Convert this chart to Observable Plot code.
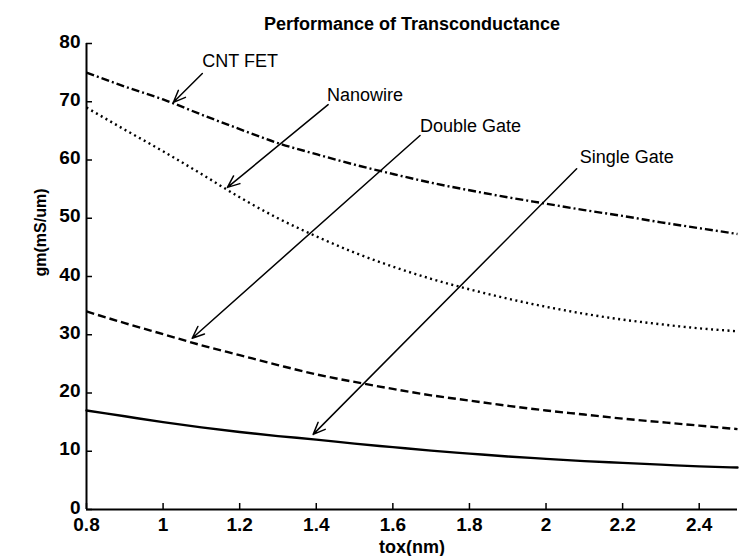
<!DOCTYPE html>
<html>
<head>
<meta charset="utf-8">
<script src="https://cdn.jsdelivr.net/npm/d3@7"></script>
<script src="https://cdn.jsdelivr.net/npm/@observablehq/plot@0.6"></script>
<style>
  html, body { margin: 0; padding: 0; background: #fff; }
  #chart svg { display: block; }
</style>
</head>
<body>
<div id="chart"></div>
<script>
// Oxide thickness (nm)
const tox = [0.8, 0.9, 1.0, 1.1, 1.2, 1.3, 1.4, 1.5, 1.6, 1.7, 1.8, 1.9, 2.0, 2.1, 2.2, 2.3, 2.4, 2.5];

// Transconductance gm (mS/um) for each device
const cntFet     = [75.0, 72.6, 70.4, 67.8, 65.3, 62.9, 61.0, 59.2, 57.6, 56.1, 54.8, 53.6, 52.5, 51.4, 50.4, 49.3, 48.3, 47.3];
const nanowire   = [69.0, 65.2, 61.5, 57.6, 53.6, 50.0, 46.9, 44.1, 41.7, 39.6, 37.8, 36.2, 34.8, 33.6, 32.6, 31.8, 31.1, 30.6];
const doubleGate = [34.0, 32.0, 30.1, 28.2, 26.5, 24.8, 23.2, 21.9, 20.7, 19.6, 18.7, 17.8, 17.0, 16.3, 15.6, 15.0, 14.4, 13.8];
const singleGate = [17.0, 16.0, 15.0, 14.1, 13.3, 12.6, 12.0, 11.3, 10.7, 10.1, 9.6, 9.1, 8.7, 8.3, 8.0, 7.7, 7.4, 7.2];

// Axis ticks
const xTicks = [0.8, 1.0, 1.2, 1.4, 1.6, 1.8, 2.0, 2.2, 2.4];
const xTickLabels = ["0.8", "1", "1.2", "1.4", "1.6", "1.8", "2", "2.2", "2.4"];
const yTicks = [0, 10, 20, 30, 40, 50, 60, 70, 80];
const yTickLabels = ["0", "10", "20", "30", "40", "50", "60", "70", "80"];

// Callout labels: text, label position, arrow start and arrow tip (data units)
const calloutText = ["CNT FET", "Nanowire", "Double Gate", "Single Gate"];
const calloutLabelX = [1.1025, 1.428, 1.671, 2.088];
const calloutLabelY = [76.9, 71.2, 65.75, 60.4];
const calloutFromX = [1.1025, 1.431, 1.671, 2.080];
const calloutFromY = [74.85, 69.5, 64.2, 58.5];
const calloutToX = [1.027, 1.168, 1.076, 1.392];
const calloutToY = [69.9, 55.3, 29.4, 12.9];

const series = [
  {name: "CNT FET", values: cntFet, dash: "8,3,2,3", cap: "butt"},
  {name: "Nanowire", values: nanowire, dash: "2,3.5", cap: "butt"},
  {name: "Double Gate", values: doubleGate, dash: "8,4", cap: "butt"},
  {name: "Single Gate", values: singleGate, dash: null, cap: "round"}
];

const W = 739, H = 556;
const mL = 86, mR = 2, mT = 43, mB = 47;
const frameW = W - mL - mR, frameH = H - mT - mB;

const callouts = calloutText.map((t, i) => ({
  text: t,
  lx: calloutLabelX[i], ly: calloutLabelY[i],
  x1: calloutFromX[i], y1: calloutFromY[i],
  x2: calloutToX[i], y2: calloutToY[i]
}));

const lineMarks = series.map(s =>
  Plot.line(tox.map((x, i) => ({x, y: s.values[i]})), {
    x: "x", y: "y",
    curve: "monotone-x",
    stroke: "black",
    strokeWidth: 2.4,
    strokeLinecap: s.cap,
    strokeDasharray: s.dash
  })
);

const chart = Plot.plot({
  width: W,
  height: H,
  marginLeft: mL,
  marginRight: mR,
  marginTop: mT,
  marginBottom: mB,
  x: {domain: [0.8, 2.5]},
  y: {domain: [0, 80]},
  style: {
    fontFamily: "'Liberation Sans', Arial, sans-serif",
    background: "white",
    color: "black",
    overflow: "visible"
  },
  marks: [
    // tick labels
    Plot.axisX(xTicks, {
      tickSize: 0, tickPadding: 8, fontSize: 19, fontWeight: "bold",
      tickFormat: (d, i) => xTickLabels[i], label: null
    }),
    Plot.axisY(yTicks, {
      tickSize: 0, tickPadding: 6, dy: -2, fontSize: 19, fontWeight: "bold",
      tickFormat: (d, i) => yTickLabels[i], label: null
    }),
    // inward ticks
    Plot.tickX(xTicks, {x: d => d, insetTop: frameH - 6, stroke: "black", strokeWidth: 1.5}),
    Plot.tickY(yTicks, {y: d => d, insetRight: frameW - 6, stroke: "black", strokeWidth: 1.5}),
    // axis lines
    Plot.ruleX([0.8], {stroke: "black", strokeWidth: 2}),
    Plot.ruleY([0], {stroke: "black", strokeWidth: 2.2}),
    // curves
    ...lineMarks,
    // callouts
    Plot.arrow(callouts, {
      x1: "x1", y1: "y1", x2: "x2", y2: "y2",
      stroke: "black", strokeWidth: 1.5, headLength: 13, headAngle: 45
    }),
    Plot.text(callouts, {
      x: "lx", y: "ly", text: "text",
      textAnchor: "start", lineAnchor: "middle",
      fontSize: 18, fill: "black"
    }),
    // title and axis titles
    Plot.text(["Performance of Transconductance"], {
      frameAnchor: "top", dy: -19, lineAnchor: "middle",
      fontSize: 18, fontWeight: "bold", fill: "black"
    }),
    Plot.text(["tox(nm)"], {
      frameAnchor: "bottom", dy: 38, lineAnchor: "middle",
      fontSize: 18, fontWeight: "bold", fill: "black"
    }),
    Plot.text(["gm(mS/um)"], {
      frameAnchor: "left", dx: -46, rotate: -90, lineAnchor: "middle",
      fontSize: 16, fontWeight: "bold", fill: "black"
    })
  ]
});

document.getElementById("chart").appendChild(chart);
</script>
</body>
</html>
